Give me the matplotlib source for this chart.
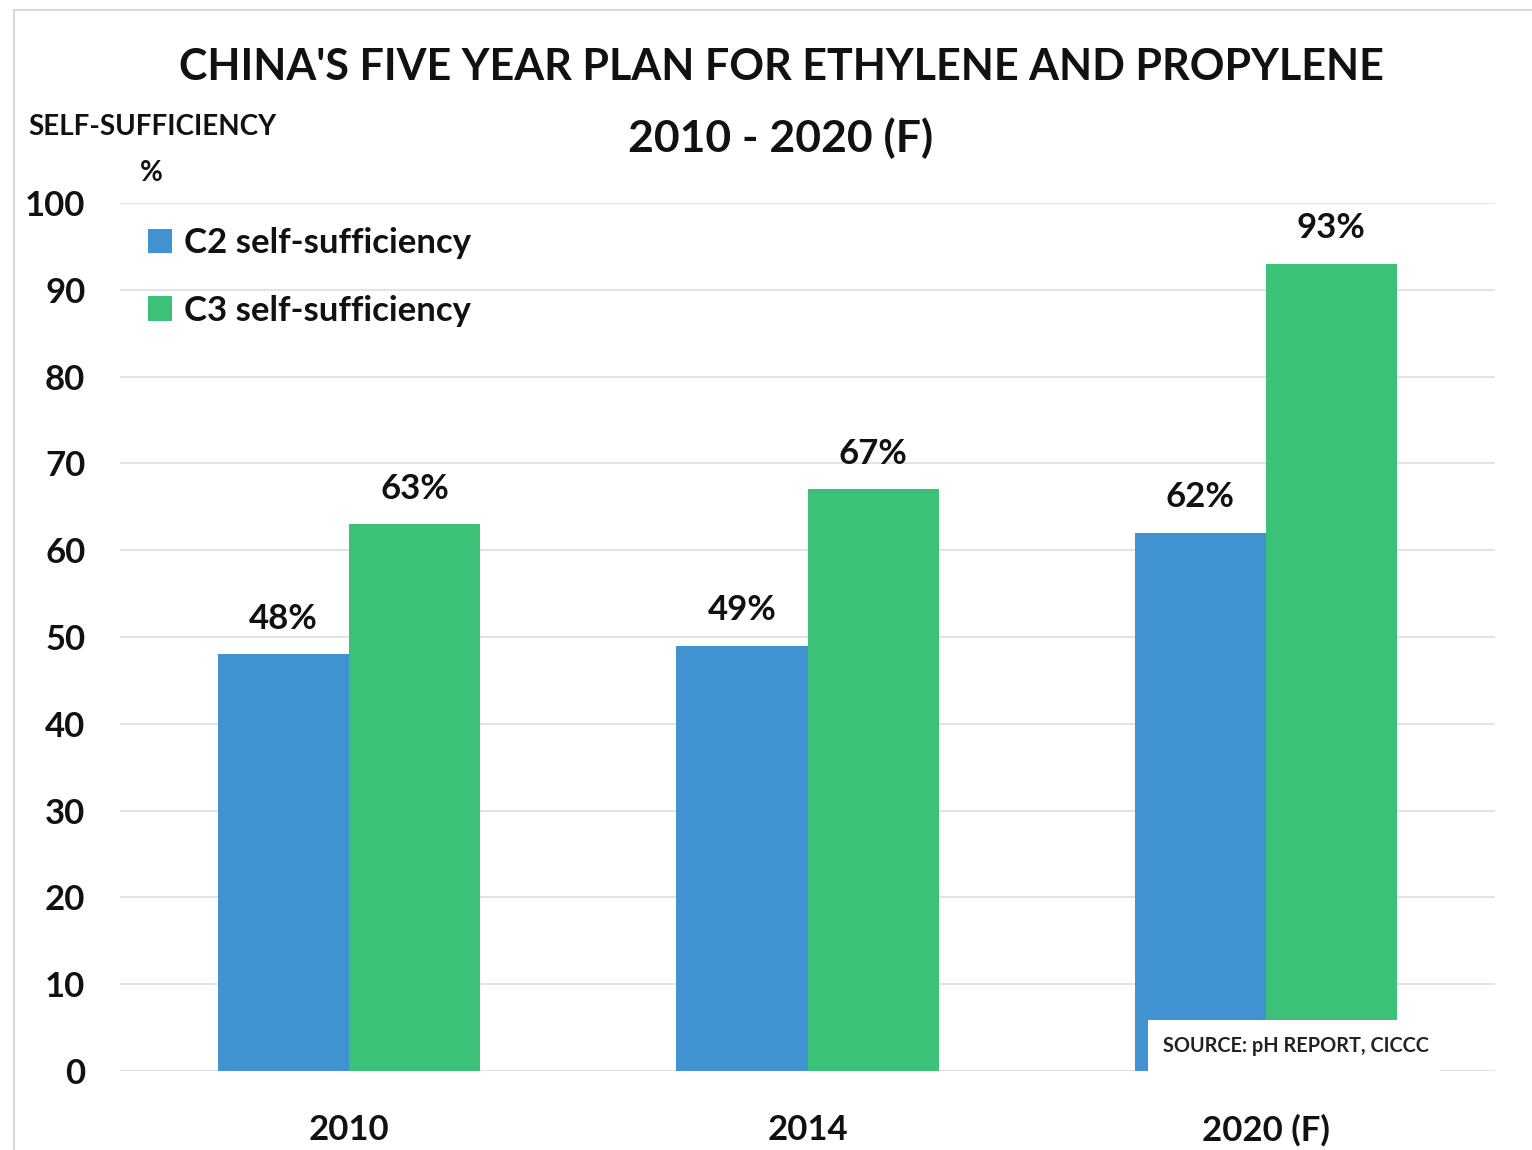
import matplotlib.pyplot as plt
from matplotlib.patches import Rectangle
import numpy as np

# ----------------
# Chart data
# ----------------

years = ["2010", "2014", "2020 (F)"]
c2_share = [48, 49, 62]
c3_share = [63, 67, 93]
series_names = ["C2 self-sufficiency", "C3 self-sufficiency"]
y_ticks = list(range(0, 101, 10))

BLUE = "#4092d0"
GREEN = "#3cc178"
INK = "#111111"
FONT = "Lato"

plt.rcParams["font.family"] = [FONT, "DejaVu Sans"]
plt.rcParams["font.weight"] = "bold"

fig = plt.figure(figsize=(15.32, 11.5), dpi=100)
ax = fig.add_axes([120 / 1532, 1 - 1071 / 1150, 1375 / 1532, 868 / 1150])

x = np.arange(len(years))
width = 0.286
bars_c2 = ax.bar(x - width / 2, c2_share, width, color=BLUE, label=series_names[0], zorder=2)
bars_c3 = ax.bar(x + width / 2, c3_share, width, color=GREEN, label=series_names[1], zorder=2)

for bars, vals in ((bars_c2, c2_share), (bars_c3, c3_share)):
    for rect, v in zip(bars, vals):
        ax.annotate(f"{v}%", (rect.get_x() + rect.get_width() / 2, v),
                    xytext=(0, 14), textcoords="offset points",
                    ha="center", va="bottom", fontsize=25, fontweight="bold", color=INK)

ax.set_xlim(-0.5, 2.5)
ax.set_ylim(0, 100)
ax.set_yticks(y_ticks)
ax.set_xticks(x)
ax.set_xticklabels(years)
ax.tick_params(axis="both", length=0, labelsize=25, colors=INK)
ax.tick_params(axis="y", pad=25)
ax.tick_params(axis="x", pad=31)
for lbl in ax.get_xticklabels() + ax.get_yticklabels():
    lbl.set_fontweight("bold")
ax.grid(axis="y", color="#e3e3e3", linewidth=1.5, zorder=0)
for side in ax.spines.values():
    side.set_visible(False)

leg = ax.legend(loc="upper left", bbox_to_anchor=(0.01, 0.988), frameon=False,
                fontsize=25, handlelength=0.7, handleheight=0.7, handletextpad=0.35,
                labelspacing=1.02, borderaxespad=0)
for t in leg.get_texts():
    t.set_fontweight("bold")
    t.set_color(INK)

# Titles and axis caption
fig.text(781 / 1532, 1 - 67 / 1150, "CHINA'S FIVE YEAR PLAN FOR ETHYLENE AND PROPYLENE",
         ha="center", va="center", fontsize=31, fontweight="bold", color=INK)
fig.text(781 / 1532, 1 - 138 / 1150, "2010 - 2020 (F)",
         ha="center", va="center", fontsize=32, fontweight="bold", color=INK)
fig.text(28 / 1532, 1 - 127 / 1150, "SELF-SUFFICIENCY",
         ha="left", va="center", fontsize=20, fontweight="bold", color=INK)
fig.text(151 / 1532, 1 - 173 / 1150, "%",
         ha="center", va="center", fontsize=20, fontweight="bold", color=INK)

# Source note sits in a white box over the last bar
fig.patches.append(Rectangle((1148 / 1532, 1 - 1076 / 1150), 292 / 1532, 56 / 1150,
                             transform=fig.transFigure, facecolor="white",
                             edgecolor="none", zorder=5))
fig.text(1163 / 1532, 1 - 1046 / 1150, "SOURCE: pH REPORT, CICCC",
         ha="left", va="center", fontsize=14.3, fontweight="bold", color="#222222", zorder=6)

# Thin outer frame
fig.patches.append(Rectangle((14 / 1532, -0.05), 1.2, 1 - 10 / 1150 + 0.05,
                             transform=fig.transFigure, facecolor="none",
                             edgecolor="#d8d8d8", linewidth=1.5, zorder=0))

fig.savefig("out.png", dpi=100)
